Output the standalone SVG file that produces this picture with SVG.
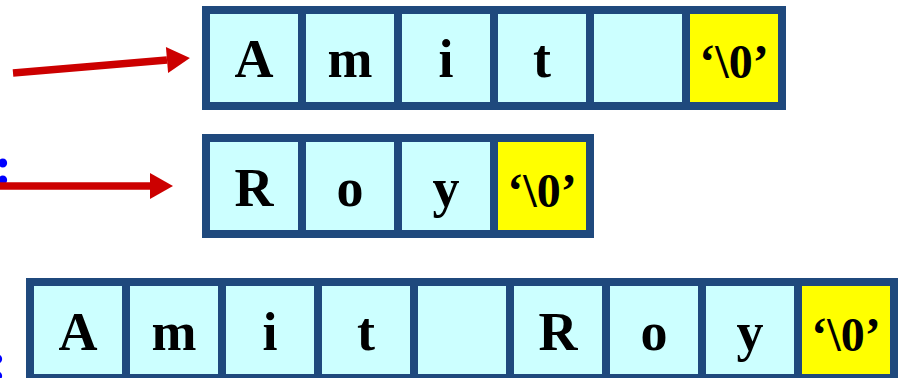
<svg xmlns="http://www.w3.org/2000/svg" width="900" height="378" viewBox="0 0 900 378">
  <style>
    .cell { fill: #CCFFFF; stroke: #1F497D; stroke-width: 8; }
    .nul { fill: #FFFF00; stroke: #1F497D; stroke-width: 8; }
    .ch { font-family: "Liberation Serif", "Times New Roman", serif; font-weight: bold; font-size: 54px; fill: #000; text-anchor: middle; }
    .q { font-family: "Liberation Serif", "Times New Roman", serif; font-weight: bold; font-size: 48px; fill: #000; text-anchor: middle; }
    .lbl { font-family: "Liberation Serif", "Times New Roman", serif; font-weight: bold; font-size: 54px; fill: #0000FF; }
    .arrow { stroke: #CC0000; stroke-width: 7.5; fill: none; marker-end: url(#head); }
  </style>
  <defs>
    <marker id="head" markerUnits="userSpaceOnUse" markerWidth="26" markerHeight="28" refX="0" refY="13" orient="auto" viewBox="0 0 26 26" overflow="visible">
      <path d="M0,0 L23,13 L0,26 z" fill="#CC0000"/>
    </marker>
  </defs>

  <text class="lbl" x="-6" y="184">:</text>
  <text class="lbl" x="-11" y="380">:</text>

  <g id="connectors">
    <line class="arrow" x1="13" y1="73" x2="167" y2="60"/>
    <line class="arrow" x1="-2" y1="186" x2="150" y2="186"/>
  </g>

  <g id="str1">
    <rect class="cell" x="206" y="10" width="96" height="96"/>
    <rect class="cell" x="302" y="10" width="96" height="96"/>
    <rect class="cell" x="398" y="10" width="96" height="96"/>
    <rect class="cell" x="494" y="10" width="96" height="96"/>
    <rect class="cell" x="590" y="10" width="96" height="96"/>
    <rect class="nul" x="686" y="10" width="96" height="96"/>
    <text class="ch" x="254" y="77">A</text>
    <text class="ch" x="350" y="77">m</text>
    <text class="ch" x="446" y="77">i</text>
    <text class="ch" x="542" y="77">t</text>
    <text class="q" x="734" y="78">‘\0’</text>
  </g>

  <g id="str2">
    <rect class="cell" x="206" y="138" width="96" height="96"/>
    <rect class="cell" x="302" y="138" width="96" height="96"/>
    <rect class="cell" x="398" y="138" width="96" height="96"/>
    <rect class="nul" x="494" y="138" width="96" height="96"/>
    <text class="ch" x="254" y="206">R</text>
    <text class="ch" x="350" y="206">o</text>
    <text class="ch" x="446" y="206">y</text>
    <text class="q" x="542" y="207">‘\0’</text>
  </g>

  <g id="str3">
    <rect class="cell" x="30" y="282" width="96" height="96"/>
    <rect class="cell" x="126" y="282" width="96" height="96"/>
    <rect class="cell" x="222" y="282" width="96" height="96"/>
    <rect class="cell" x="318" y="282" width="96" height="96"/>
    <rect class="cell" x="414" y="282" width="96" height="96"/>
    <rect class="cell" x="510" y="282" width="96" height="96"/>
    <rect class="cell" x="606" y="282" width="96" height="96"/>
    <rect class="cell" x="702" y="282" width="96" height="96"/>
    <rect class="nul" x="798" y="282" width="96" height="96"/>
    <text class="ch" x="78" y="350">A</text>
    <text class="ch" x="174" y="350">m</text>
    <text class="ch" x="270" y="350">i</text>
    <text class="ch" x="366" y="350">t</text>
    <text class="ch" x="558" y="350">R</text>
    <text class="ch" x="654" y="350">o</text>
    <text class="ch" x="750" y="350">y</text>
    <text class="q" x="846" y="351">‘\0’</text>
  </g>
</svg>
